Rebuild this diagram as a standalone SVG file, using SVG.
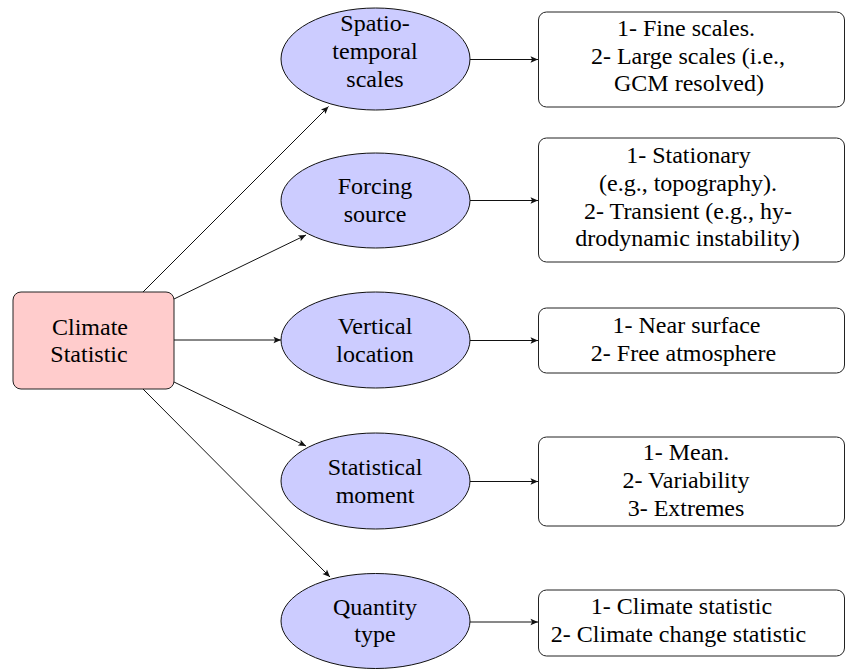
<svg xmlns="http://www.w3.org/2000/svg" width="846" height="670" viewBox="0 0 846 670">
<defs>
<marker id="ah" markerUnits="userSpaceOnUse" markerWidth="10" markerHeight="8" viewBox="0 -4 8 8" refX="7.5" refY="0" orient="auto">
<path d="M0,-3.2 L7.5,0 L0,3.2 L1.6,0 z" fill="#111"/>
</marker>
</defs>
<g id="climate-statistic">
<rect x="13" y="292" width="161" height="97" rx="8" fill="#ffcccc" stroke="#222" stroke-width="1"/>
<text x="90" y="335" font-family="'Liberation Serif'" font-size="24" text-anchor="middle">Climate</text>
<text x="89" y="362" font-family="'Liberation Serif'" font-size="24" text-anchor="middle">Statistic</text>
</g>
<g id="spatio">
<ellipse cx="375.5" cy="59" rx="94.5" ry="51" fill="#ccccff" stroke="#111" stroke-width="1"/>
<text x="375" y="31" font-family="'Liberation Serif'" font-size="24" text-anchor="middle">Spatio-</text>
<text x="375" y="59" font-family="'Liberation Serif'" font-size="24" text-anchor="middle">temporal</text>
<text x="375" y="87" font-family="'Liberation Serif'" font-size="24" text-anchor="middle">scales</text>
</g>
<g id="forcing">
<ellipse cx="375.5" cy="200.5" rx="94.5" ry="47.5" fill="#ccccff" stroke="#111" stroke-width="1"/>
<text x="375" y="194" font-family="'Liberation Serif'" font-size="24" text-anchor="middle">Forcing</text>
<text x="375" y="222" font-family="'Liberation Serif'" font-size="24" text-anchor="middle">source</text>
</g>
<g id="vertical">
<ellipse cx="375.5" cy="340" rx="94.5" ry="48" fill="#ccccff" stroke="#111" stroke-width="1"/>
<text x="375" y="334" font-family="'Liberation Serif'" font-size="24" text-anchor="middle">Vertical</text>
<text x="375" y="362" font-family="'Liberation Serif'" font-size="24" text-anchor="middle">location</text>
</g>
<g id="statistical">
<ellipse cx="375.5" cy="481" rx="94.5" ry="48" fill="#ccccff" stroke="#111" stroke-width="1"/>
<text x="375" y="475" font-family="'Liberation Serif'" font-size="24" text-anchor="middle">Statistical</text>
<text x="375" y="503" font-family="'Liberation Serif'" font-size="24" text-anchor="middle">moment</text>
</g>
<g id="quantity">
<ellipse cx="375.5" cy="621" rx="94.5" ry="47.5" fill="#ccccff" stroke="#111" stroke-width="1"/>
<text x="375" y="615" font-family="'Liberation Serif'" font-size="24" text-anchor="middle">Quantity</text>
<text x="375" y="642" font-family="'Liberation Serif'" font-size="24" text-anchor="middle">type</text>
</g>
<g id="box-scales">
<rect x="538.5" y="12" width="306" height="95" rx="8" fill="#fff" stroke="#222" stroke-width="1"/>
<text x="686" y="36" font-family="'Liberation Serif'" font-size="24" text-anchor="middle">1- Fine scales.</text>
<text x="688" y="63.5" font-family="'Liberation Serif'" font-size="24" text-anchor="middle">2- Large scales (i.e.,</text>
<text x="689" y="91" font-family="'Liberation Serif'" font-size="24" text-anchor="middle">GCM resolved)</text>
</g>
<g id="box-forcing">
<rect x="538.5" y="138" width="306" height="124" rx="8" fill="#fff" stroke="#222" stroke-width="1"/>
<text x="688.5" y="163" font-family="'Liberation Serif'" font-size="24" text-anchor="middle">1- Stationary</text>
<text x="688" y="191" font-family="'Liberation Serif'" font-size="24" text-anchor="middle">(e.g., topography).</text>
<text x="688" y="218.5" font-family="'Liberation Serif'" font-size="24" text-anchor="middle">2- Transient (e.g., hy-</text>
<text x="687.5" y="246" font-family="'Liberation Serif'" font-size="24" text-anchor="middle">drodynamic instability)</text>
</g>
<g id="box-vertical">
<rect x="538.5" y="308" width="306" height="65" rx="8" fill="#fff" stroke="#222" stroke-width="1"/>
<text x="686.5" y="333" font-family="'Liberation Serif'" font-size="24" text-anchor="middle">1- Near surface</text>
<text x="683.5" y="361" font-family="'Liberation Serif'" font-size="24" text-anchor="middle">2- Free atmosphere</text>
</g>
<g id="box-moment">
<rect x="538.5" y="437" width="306" height="89" rx="8" fill="#fff" stroke="#222" stroke-width="1"/>
<text x="686" y="460" font-family="'Liberation Serif'" font-size="24" text-anchor="middle">1- Mean.</text>
<text x="686" y="488" font-family="'Liberation Serif'" font-size="24" text-anchor="middle">2- Variability</text>
<text x="686" y="516" font-family="'Liberation Serif'" font-size="24" text-anchor="middle">3- Extremes</text>
</g>
<g id="box-quantity">
<rect x="538.5" y="590" width="306" height="66" rx="8" fill="#fff" stroke="#222" stroke-width="1"/>
<text x="681.5" y="614" font-family="'Liberation Serif'" font-size="24" text-anchor="middle">1- Climate statistic</text>
<text x="678.5" y="642" font-family="'Liberation Serif'" font-size="24" text-anchor="middle">2- Climate change statistic</text>
</g>
<g id="connectors" stroke="#111" stroke-width="1" fill="none" marker-end="url(#ah)">
<line x1="143" y1="292" x2="328.5" y2="106.5"/>
<line x1="174" y1="299" x2="306" y2="235"/>
<line x1="174" y1="340" x2="281" y2="340"/>
<line x1="174" y1="382" x2="306" y2="446"/>
<line x1="143" y1="389" x2="330" y2="577"/>
<line x1="470" y1="59.5" x2="538" y2="59.5"/>
<line x1="470" y1="200.5" x2="538" y2="200.5"/>
<line x1="470" y1="340.5" x2="538" y2="340.5"/>
<line x1="470" y1="481.5" x2="538" y2="481.5"/>
<line x1="470" y1="622" x2="538" y2="622"/>
</g>
</svg>
